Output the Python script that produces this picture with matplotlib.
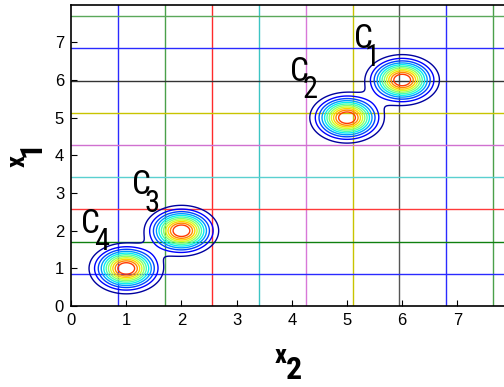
import matplotlib
matplotlib.use("Agg")
import matplotlib.pyplot as plt
import numpy as np

# ---- data ----
centers_x2 = [1.0, 2.0, 5.0, 6.0]
centers_x1 = [1.0, 2.0, 5.0, 6.0]
sigma = 0.3
levels = [0.08, 0.16, 0.24, 0.32, 0.40, 0.48, 0.56, 0.64, 0.72, 0.80, 0.88]

grid_pos_x = [0.85, 1.70, 2.55, 3.40, 4.25, 5.10, 5.95, 6.80, 7.65]
grid_pos_y = [0.855, 1.71, 2.565, 3.42, 4.275, 5.13, 5.985, 6.84, 7.695]
grid_colors = ['#2a2aff', '#4aa04a', '#ff2a2a', '#3cc4c4', '#d878d8',
               '#c8c400', '#555555', '#2a2aff', '#4aa04a']
grid_colors_h = ['#2a2aff', '#108010', '#ff3a3a', '#5ad0d0', '#d070d0',
                 '#c8c400', '#333333', '#2a2aff', '#5aa85a']

labels = ['1', '2', '3', '4']
label_c_pos = [(5.30, 7.10), (4.14, 6.22), (1.27, 3.21), (0.36, 2.19)]
label_sub_pos = [(5.45, 6.60), (4.33, 5.74), (1.46, 2.71), (0.55, 1.71)]

ticks = [0, 1, 2, 3, 4, 5, 6, 7]

# ---- figure ----
fig = plt.figure(figsize=(5.04, 3.87), dpi=100)
ax = fig.add_axes([0.141, 0.209, 0.876, 0.779])

narrow = ['Roboto Condensed', 'Liberation Sans Narrow', 'DejaVu Sans']

# coloured reference lines
for xv, c in zip(grid_pos_x, grid_colors):
    ax.axvline(xv, color=c, lw=1.0, zorder=1)
for yv, c in zip(grid_pos_y, grid_colors_h):
    ax.axhline(yv, color=c, lw=1.0, zorder=1)

# mixture of gaussians
gx = np.linspace(0, 8, 600)
gy = np.linspace(0, 8, 600)
X, Y = np.meshgrid(gx, gy)
Z = np.zeros_like(X)
for cx, cy in zip(centers_x2, centers_x1):
    Z += np.exp(-((X - cx) ** 2 + (Y - cy) ** 2) / (2 * sigma ** 2))

ax.contour(X, Y, Z, levels=levels, cmap='jet', vmin=0.05, vmax=1.03,
           linewidths=1.0, zorder=2)

# cluster labels
for lab, (cx, cy), (sx, sy) in zip(labels, label_c_pos, label_sub_pos):
    ax.text(cx, cy, 'C', ha='center', va='center', fontsize=24,
            family=narrow, fontstretch='condensed', color='black', zorder=4)
    ax.text(sx, sy, lab, ha='center', va='center', fontsize=22,
            family=narrow, fontstretch='condensed', color='black', zorder=4)

ax.set_xlim(0, 8)
ax.set_ylim(0, 8)
ax.set_xticks(ticks)
ax.set_yticks(ticks)
ax.tick_params(direction='in', length=4, width=0.8, labelsize=12,
               top=False, right=False, pad=5)
for lbl in ax.get_xticklabels() + ax.get_yticklabels():
    lbl.set_family(['Liberation Sans', 'DejaVu Sans'])
ax.spines['right'].set_visible(False)
for s in ['left', 'bottom', 'top']:
    ax.spines[s].set_linewidth(1.2)

# axis labels (x with a full-size lowered index, as in the original)
fig.text(0.5565, 0.079, 'x', fontsize=19, fontweight='bold', family=narrow,
         fontstretch='condensed', ha='center', va='center')
fig.text(0.584, 0.043, '2', fontsize=23, fontweight='bold', family=narrow,
         fontstretch='condensed', ha='center', va='center')
fig.text(0.034, 0.584, 'x', fontsize=19, fontweight='bold', family=narrow,
         fontstretch='condensed', ha='center', va='center', rotation=90)
fig.text(0.0635, 0.614, '1', fontsize=23, fontweight='bold', family=narrow,
         fontstretch='condensed', ha='center', va='center', rotation=90)

fig.savefig('out.png', dpi=100)
